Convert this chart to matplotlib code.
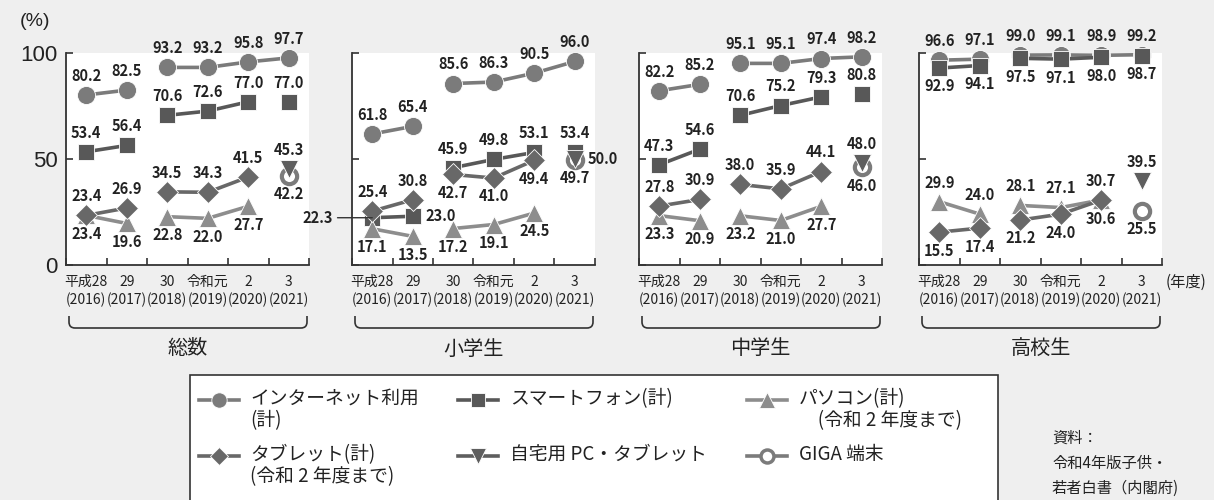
import numpy as np
import matplotlib.pyplot as plt
from matplotlib.lines import Line2D
from matplotlib.path import Path
from matplotlib.patches import PathPatch, Rectangle

# -----------------------------------------------
# Data
# -----------------------------------------------
years_jp = ['平成28', '29', '30', '令和元', '2', '3']
years_ad = ['(2016)', '(2017)', '(2018)', '(2019)', '(2020)', '(2021)']
panels = ['総数', '小学生', '中学生', '高校生']

internet = [[80.2, 82.5, 93.2, 93.2, 95.8, 97.7],
            [61.8, 65.4, 85.6, 86.3, 90.5, 96.0],
            [82.2, 85.2, 95.1, 95.1, 97.4, 98.2],
            [96.6, 97.1, 99.0, 99.1, 98.9, 99.2]]
smartphone = [[53.4, 56.4, 70.6, 72.6, 77.0, 77.0],
              [22.3, 23.0, 45.9, 49.8, 53.1, 53.4],
              [47.3, 54.6, 70.6, 75.2, 79.3, 80.8],
              [92.9, 94.1, 97.5, 97.1, 98.0, 98.7]]
pc = [[23.4, 19.6, 22.8, 22.0, 27.7],
      [17.1, 13.5, 17.2, 19.1, 24.5],
      [23.3, 20.9, 23.2, 21.0, 27.7],
      [29.9, 24.0, 28.1, 27.1, 30.7]]
tablet = [[23.4, 26.9, 34.5, 34.3, 41.5],
          [25.4, 30.8, 42.7, 41.0, 49.4],
          [27.8, 30.9, 38.0, 35.9, 44.1],
          [15.5, 17.4, 21.2, 24.0, 30.6]]
home_pc = [45.3, 50.0, 48.0, 39.5]
giga = [42.2, 49.7, 46.0, 25.5]

legend_labels = ['インターネット利用\n(計)', 'スマートフォン(計)', 'パソコン(計)\n　(令和 2 年度まで)',
                 'タブレット(計)\n(令和 2 年度まで)', '自宅用 PC・タブレット', 'GIGA 端末']
source_text = '資料：\n令和4年版子供・\n若者白書（内閣府)'

# -----------------------------------------------
# Styles / label placement (a=above, b=below, r=right, l=left callout)
# -----------------------------------------------
styles = {
    'internet': dict(marker='o', color='#7b7b7b', ms=13),
    'smartphone': dict(marker='s', color='#585858', ms=11.5),
    'pc': dict(marker='^', color='#8d8d8d', ms=13),
    'tablet': dict(marker='D', color='#686868', ms=11),
    'home': dict(marker='v', color='#5e5e5e', ms=13),
    'giga': dict(marker='o', color='#7b7b7b', ms=11),
}
segments = {
    'internet': [[0, 1], [2, 3, 4, 5]],
    'smartphone': [[0, 1], [2, 3, 4], [5]],
    'pc': [[0, 1], [2, 3, 4]],
    'tablet': [[0, 1], [2, 3, 4]],
}
placement = [
    dict(internet='aaaaaa', smartphone='aaaaaa', pc='bbbbb', tablet='aaaaa', home='a', giga='b'),
    dict(internet='aaaaaa', smartphone='lraaaa', pc='bbbbb', tablet='aabbb', home='r', giga='b'),
    dict(internet='aaaaaa', smartphone='aaaaaa', pc='bbbbb', tablet='aaaaa', home='a', giga='b'),
    dict(internet='aaaaaa', smartphone='bbbbbb', pc='aaaaa', tablet='bbbbb', home='a', giga='b'),
]

W, H = 1214, 500
BG = '#efefef'
TXT = '#222222'
NUM_FONT = ['Liberation Sans Narrow', 'Noto Sans CJK JP']
JP_FONT = ['Noto Sans CJK JP', 'DejaVu Sans']


def fx(px):
    return px / W


def fy(py):
    return 1 - py / H


def put_label(ax, x, y, code):
    txt = f'{y:.1f}'
    kw = dict(fontsize=10.5, fontweight='bold', family=NUM_FONT, color=TXT,
              textcoords='offset points', zorder=10, annotation_clip=False)
    if code == 'a':
        ax.annotate(txt, (x, y), xytext=(0, 8), ha='center', va='bottom', **kw)
    elif code == 'b':
        ax.annotate(txt, (x, y), xytext=(0, -7.5), ha='center', va='top', **kw)
    elif code == 'r':
        ax.annotate(txt, (x, y), xytext=(9, 0), ha='left', va='center', **kw)
    elif code == 'l':
        ax.annotate(txt, (x, y), xytext=(-28, 0), ha='right', va='center',
                    arrowprops=dict(arrowstyle='-', color='#333333', lw=1,
                                    shrinkA=1, shrinkB=0), **kw)


def draw_series(ax, name, values, codes, z):
    st = styles[name]
    x = np.arange(len(values))
    v = np.array(values)
    for seg in segments[name]:
        ax.plot(x[seg], v[seg], color=st['color'], lw=2.6, marker=st['marker'],
                ms=st['ms'], mfc=st['color'], mec='white', mew=0.6,
                clip_on=False, zorder=z)
    for xi, yi, c in zip(x, v, codes):
        put_label(ax, xi, yi, c)


def draw_single(ax, name, value, code, z, hollow=False):
    st = styles[name]
    if hollow:
        ax.plot([5], [value], marker=st['marker'], ms=st['ms'], mfc='white',
                mec=st['color'], mew=3, ls='none', clip_on=False, zorder=z)
    else:
        ax.plot([5], [value], marker=st['marker'], ms=st['ms'], mfc=st['color'],
                mec='white', mew=0.6, ls='none', clip_on=False, zorder=z)
    put_label(ax, 5, value, code)


# -----------------------------------------------
# Figure
# -----------------------------------------------
fig = plt.figure(figsize=(W / 100, H / 100), dpi=100, facecolor=BG)

lefts = [66, 352, 639, 919]
pw = 243
top_px, bot_px = 53, 265

for i, left in enumerate(lefts):
    ax = fig.add_axes([fx(left), fy(bot_px), fx(pw), (bot_px - top_px) / H])
    ax.set_facecolor('white')
    ax.set_xlim(-0.5, 5.5)
    ax.set_ylim(0, 100)
    for s in ['top', 'right']:
        ax.spines[s].set_visible(False)
    for s in ['left', 'bottom']:
        ax.spines[s].set_color('#333333')
        ax.spines[s].set_linewidth(1.3)

    ax.set_yticks([0, 50, 100])
    ax.tick_params(axis='y', direction='in', length=5, width=1.2, color='#333333',
                   labelsize=16, labelcolor=TXT, pad=6)
    if i == 0:
        ax.set_yticklabels(['0', '50', '100'], family=['Liberation Sans', 'DejaVu Sans'])
    else:
        ax.set_yticklabels([])

    ax.set_xticks(np.arange(-0.5, 6, 1))
    ax.set_xticklabels([])
    ax.tick_params(axis='x', which='major', direction='in', length=5, width=1.2,
                   color='#333333')
    ax.set_xticks(np.arange(6), [f'{a}\n{b}' for a, b in zip(years_jp, years_ad)],
                  minor=True)
    ax.tick_params(axis='x', which='minor', length=0, pad=7, labelsize=10,
                   labelcolor=TXT)
    for t in ax.get_xticklabels(minor=True):
        t.set_family(NUM_FONT)
        t.set_linespacing(1.35)

    pl = placement[i]
    draw_series(ax, 'internet', internet[i], pl['internet'], 3)
    draw_series(ax, 'smartphone', smartphone[i], pl['smartphone'], 4)
    draw_series(ax, 'pc', pc[i], pl['pc'], 5)
    draw_series(ax, 'tablet', tablet[i], pl['tablet'], 6)
    draw_single(ax, 'giga', giga[i], pl['giga'], 7, hollow=True)
    draw_single(ax, 'home', home_pc[i], pl['home'], 8)

    # bracket under the year labels
    xl, xr = fx(left + 3), fx(left + pw - 2)
    yt, yb = fy(316), fy(328)
    r = 6 / W
    rv = 6 / H
    verts = [(xl, yt), (xl, yb + rv), (xl, yb), (xl + r, yb),
             (xr - r, yb), (xr, yb), (xr, yb + rv), (xr, yt)]
    codes = [Path.MOVETO, Path.LINETO, Path.CURVE3, Path.CURVE3,
             Path.LINETO, Path.CURVE3, Path.CURVE3, Path.LINETO]
    fig.add_artist(PathPatch(Path(verts, codes), transform=fig.transFigure,
                             fill=False, edgecolor='#333333', lw=1.2))
    fig.text(fx(left + pw / 2), fy(349), panels[i], ha='center', va='center',
             fontsize=14.5, family=JP_FONT, color=TXT)

fig.text(fx(20), fy(22), '(%)', ha='left', va='center', fontsize=14,
         family=['Liberation Sans', 'DejaVu Sans'], color=TXT)
fig.text(fx(1166), fy(282), '(年度)', ha='left', va='center', fontsize=11,
         family=JP_FONT, color=TXT)

# -----------------------------------------------
# Legend (hand made box)
# -----------------------------------------------
fig.add_artist(Rectangle((fx(190), fy(505)), fx(998 - 190), (505 - 375) / H,
                         transform=fig.transFigure, facecolor='white',
                         edgecolor='#333333', lw=1.2))
legend_keys = ['internet', 'smartphone', 'pc', 'tablet', 'home', 'giga']
col_handle = [199, 458, 747]
col_text = [250, 510, 799]
row_y = [400, 456]
for k, (key, lab) in enumerate(zip(legend_keys, legend_labels)):
    row, col = divmod(k, 3)
    st = styles[key]
    x0 = col_handle[col]
    yy = fy(row_y[row])
    xs = [fx(x0), fx(x0 + 20), fx(x0 + 40)]
    hollow = key == 'giga'
    fig.add_artist(Line2D(xs, [yy] * 3, transform=fig.transFigure, color=st['color'],
                          lw=2.6, marker=st['marker'], ms=st['ms'] * 0.85, markevery=[1],
                          mfc='white' if hollow else st['color'],
                          mec=st['color'] if hollow else 'white',
                          mew=2.5 if hollow else 0.6))
    fig.text(fx(col_text[col]), fy(row_y[row] - 12), lab, ha='left', va='top',
             fontsize=13.5, family=JP_FONT, color=TXT, linespacing=1.1)

fig.text(fx(1052), fy(430), source_text, ha='left', va='top', fontsize=11,
         family=JP_FONT, color=TXT, linespacing=1.6)

fig.savefig('out.png', dpi=100, facecolor=BG)
